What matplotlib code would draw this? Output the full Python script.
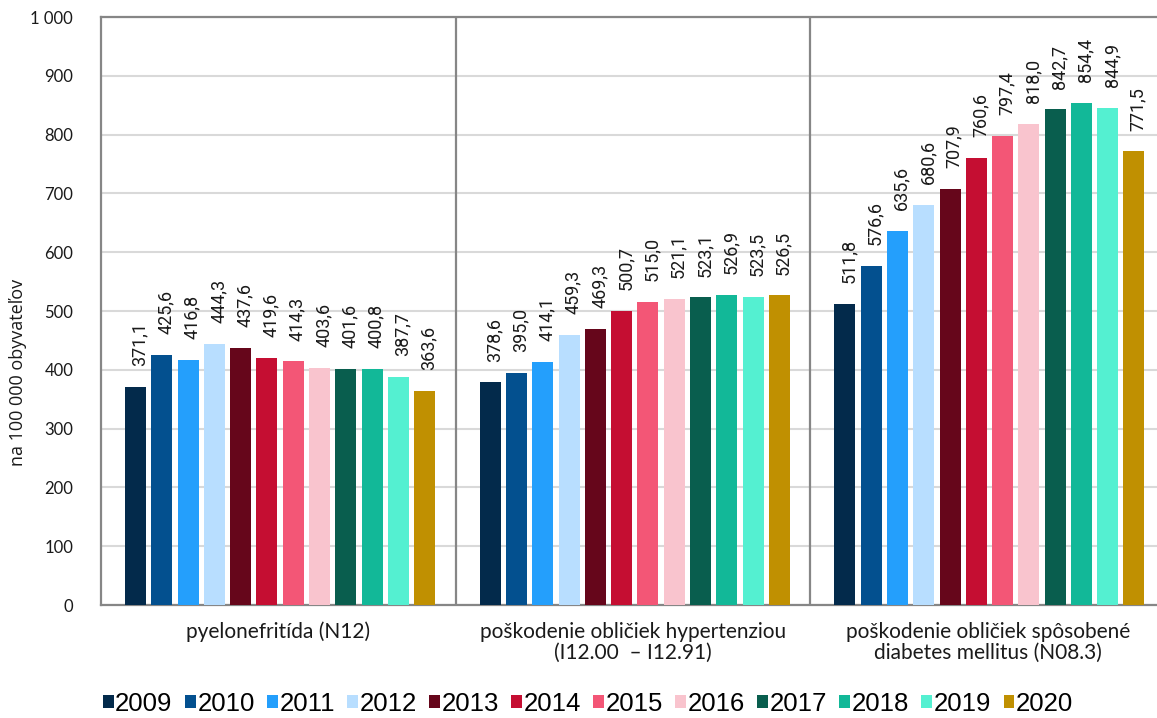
import matplotlib
matplotlib.use("Agg")
import matplotlib.pyplot as plt
from matplotlib.patches import Patch
from matplotlib.ticker import FuncFormatter

categories = ["pyelonefritída (N12)",
              "poškodenie obličiek hypertenziou\n(I12.00  – I12.91)",
              "poškodenie obličiek spôsobené\ndiabetes mellitus (N08.3)"]
years = ["2009", "2010", "2011", "2012", "2013", "2014",
         "2015", "2016", "2017", "2018", "2019", "2020"]
pyelonefritida = [371.1, 425.6, 416.8, 444.3, 437.6, 419.6, 414.3, 403.6, 401.6, 400.8, 387.7, 363.6]
hypertenzia = [378.6, 395.0, 414.1, 459.3, 469.3, 500.7, 515.0, 521.1, 523.1, 526.9, 523.5, 526.5]
diabetes = [511.8, 576.6, 635.6, 680.6, 707.9, 760.6, 797.4, 818.0, 842.7, 854.4, 844.9, 771.5]
colors = ["#032a4b", "#03508f", "#249ffc", "#b8deff", "#66061b", "#c50e32",
          "#f35676", "#f9c4ce", "#095e4e", "#12b898", "#54f0d1", "#c09001"]
yticks = [0, 100, 200, 300, 400, 500, 600, 700, 800, 900, 1000]

series = [pyelonefritida, hypertenzia, diabetes]

W, H = 1157, 718
fig = plt.figure(figsize=(W / 100, H / 100), dpi=100)
ax = fig.add_axes([101 / W, 1 - 605 / H, (1165 - 101) / W, (605 - 17) / H])

step = 0.0741
bw = 0.0592
for j, yr in enumerate(years):
    xs = [i + (j - 5.5) * step + 0.005 for i in range(len(categories))]
    vals = [s[j] for s in series]
    ax.bar(xs, vals, width=bw, color=colors[j], zorder=3, label=yr)
    for x, v in zip(xs, vals):
        ax.annotate(f"{v:.1f}".replace(".", ","), (x, v), xytext=(3, 15),
                    textcoords="offset points", rotation=90, ha="center",
                    va="bottom", fontsize=13, family="Roboto", color="#1a1a1a",
                    zorder=4)

ax.set_xlim(-0.5, 2.5)
ax.set_ylim(0, 1000)
ax.set_yticks(yticks)
ax.yaxis.set_major_formatter(FuncFormatter(lambda v, p: f"{int(v):,}".replace(",", " ")))
ax.grid(axis="y", color="#d9d9d9", lw=1.5, zorder=0)
ax.tick_params(axis="y", length=0, pad=20, labelsize=12, labelcolor="#1a1a1a")
for lab in ax.get_yticklabels():
    lab.set_family("Lato")
ax.set_xticks(range(len(categories)))
ax.set_xticklabels(categories, family="Lato", fontsize=15, color="#1a1a1a",
                   linespacing=1.05)
ax.tick_params(axis="x", length=0, pad=12)

for side in ["left", "top", "bottom", "right"]:
    ax.spines[side].set_color("#868686")
    ax.spines[side].set_linewidth(1.6)
for xv in [0.5, 1.5]:
    ax.axvline(xv, color="#868686", lw=1.6, zorder=2)

fig.text(18 / W, 1 - 372 / H, "na 100 000 obyvateľov", rotation=90, ha="center",
         va="center", fontsize=13, family="Open Sans", color="#1a1a1a")

handles = [Patch(facecolor=c, edgecolor="none") for c in colors]
fig.legend(handles, years, ncol=12, loc="center", bbox_to_anchor=(588 / W, 1 - 704 / H),
           frameon=False, prop={"family": "Liberation Sans", "size": 18.5},
           handlelength=0.42, handleheight=0.42, handletextpad=0.05,
           columnspacing=0.49, borderpad=0, borderaxespad=0)

fig.savefig("out.png", dpi=100)
